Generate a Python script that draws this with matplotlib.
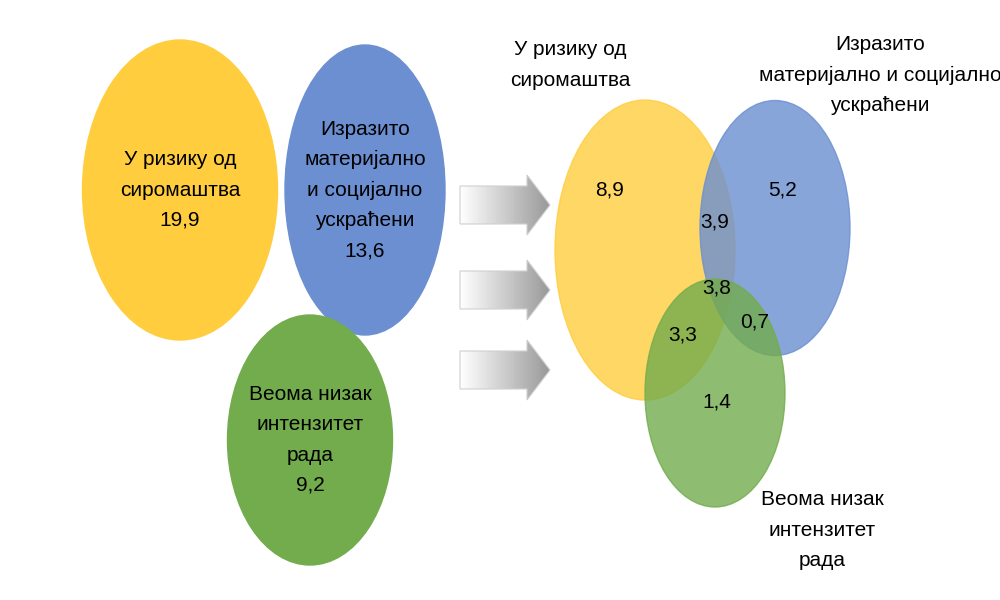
import numpy as np
import matplotlib
matplotlib.use('Agg')
import matplotlib.pyplot as plt
from matplotlib.patches import Ellipse, Polygon
from matplotlib import font_manager

names = ['Liberation Sans Narrow', 'Liberation Sans', 'DejaVu Sans']
avail = {f.name for f in font_manager.fontManager.ttflist}
plt.rcParams['font.family'] = [n for n in names if n in avail] or ['DejaVu Sans']

# data
labels = ['У ризику од\nсиромаштва', 'Изразито\nматеријално\nи социјално\nускраћени',
          'Веома низак\nинтензитет\nрада']
totals = ['19,9', '13,6', '9,2']
venn_labels = ['У ризику од\nсиромаштва', 'Изразито\nматеријално и социјално\nускраћени',
               'Веома низак\nинтензитет\nрада']
only = ['8,9', '5,2', '1,4']
pair = ['3,9', '3,3', '0,7']   # yellow-blue, yellow-green, blue-green
triple = '3,8'
colors = ['#FFCD3E', '#6B8FD1', '#72AC4C']

fs = 15
ls = 1.75

fig = plt.figure(figsize=(10, 6), dpi=100)
ax = fig.add_axes([0, 0, 1, 1])
ax.axis('off')

# left circles
left = [(180, 190, 195, 300), (365, 190, 160, 290), (310, 440, 165, 250)]
for (x, y, w, h), c, lab, t in zip(left, colors, labels, totals):
    ax.add_patch(Ellipse((x, y), w, h, color=c, zorder=1))
    ax.text(x, y, lab + '\n' + t, ha='center', va='center', fontsize=fs,
            linespacing=ls, zorder=3)

# arrows with gradient
grad = np.linspace(1, 0.6, 100).reshape(1, -1)
for ya in [205, 290, 370]:
    pts = [(460, ya - 19), (527, ya - 19), (527, ya - 30), (550, ya),
           (527, ya + 30), (527, ya + 19), (460, ya + 19)]
    poly = Polygon(pts, closed=True, facecolor='none', edgecolor='#d0d0d0', lw=0.8, zorder=2)
    ax.add_patch(poly)
    im = ax.imshow(np.vstack([grad, grad]), cmap='gray', vmin=0, vmax=1,
                   extent=(460, 550, ya + 30, ya - 30), aspect='auto', zorder=1)
    im.set_clip_path(poly)
ax.set_xlim(0, 1000)
ax.set_ylim(600, 0)

# venn
right = [(645, 250, 180, 300), (775, 228, 150, 255), (715, 393, 140, 228)]
for (x, y, w, h), c in zip(right, colors):
    ax.add_patch(Ellipse((x, y), w, h, color=c, alpha=0.8, zorder=1))

ax.text(570, 65, venn_labels[0], ha='center', va='center', fontsize=fs, linespacing=ls)
ax.text(880, 75, venn_labels[1], ha='center', va='center', fontsize=fs, linespacing=ls)
ax.text(822, 530, venn_labels[2], ha='center', va='center', fontsize=fs, linespacing=ls)

for (px, py), v in zip([(610, 190), (783, 190), (717, 402)], only):
    ax.text(px, py, v, ha='center', va='center', fontsize=fs)
for (px, py), v in zip([(715, 222), (683, 335), (755, 322)], pair):
    ax.text(px, py, v, ha='center', va='center', fontsize=fs)
ax.text(717, 288, triple, ha='center', va='center', fontsize=fs)

fig.savefig('out.png', dpi=100)
